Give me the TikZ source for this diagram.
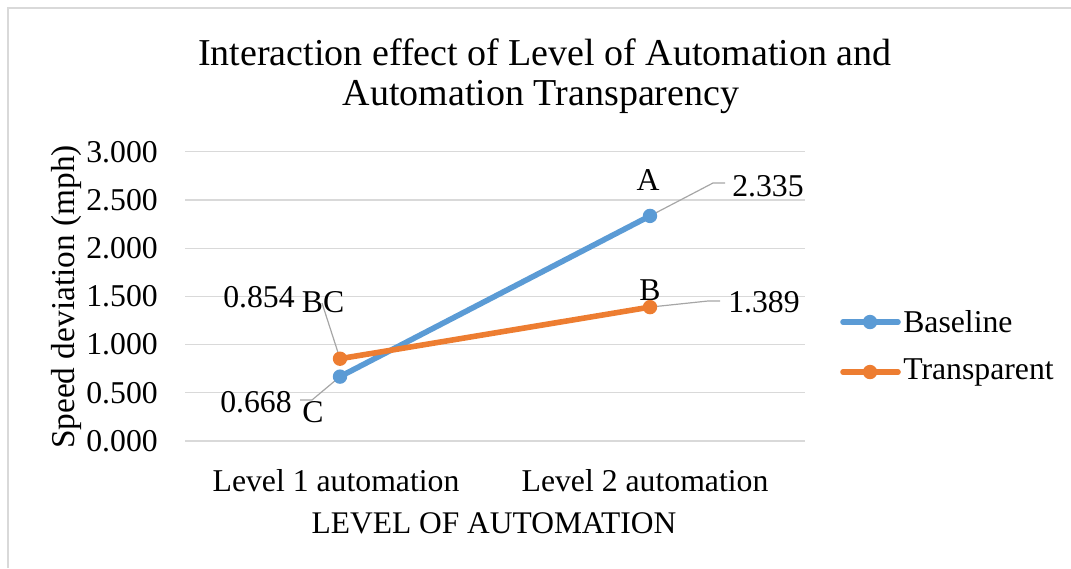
\documentclass[tikz,border=0pt]{standalone}
\usepackage{fontspec}
\setmainfont{Liberation Serif}
\usetikzlibrary{positioning}
\definecolor{baseblue}{HTML}{5B9BD5}
\definecolor{transorange}{HTML}{ED7D31}
\definecolor{gridgray}{HTML}{D9D9D9}
\definecolor{leadergray}{HTML}{A6A6A6}
\definecolor{framegray}{HTML}{D9D9D9}

\begin{document}
\begin{tikzpicture}[x=0.75pt, y=-0.75pt,
    chartfont/.style={font=\fontsize{23.8}{26}\selectfont, text=black, inner sep=0pt},
    ticklabel/.style={chartfont, anchor=east},
    datalabel/.style={chartfont},
    leader/.style={leadergray, line width=0.9pt},
    series/.style={line width=4.2pt, line cap=round},
    gridline/.style={gridgray, line width=1pt}]
  \useasboundingbox (0,0) rectangle (1071,568);
  \draw[framegray, line width=1.5pt] (8,568) -- (8,8) -- (1071,8);
  % Title
  \node[font=\fontsize{28.5}{32}\selectfont, inner sep=0pt] (title1) at (545,52) {Interaction effect of Level of Automation and};
  \node[font=\fontsize{28.5}{32}\selectfont, inner sep=0pt] (title2) at (541,97) {Automation Transparency};
  % Grid and value axis
  \foreach \v/\t in {0/0.000, 1/0.500, 2/1.000, 3/1.500, 4/2.000, 5/2.500, 6/3.000} {
    \draw[gridline] (185,{441-48.2*\v}) -- (805,{441-48.2*\v});
    \node[ticklabel] (tick\v) at (158,{441-48.2*\v}) {\t};
  }
  \node[font=\fontsize{25}{28}\selectfont, inner sep=0pt, rotate=90] (ytitle) at (66,297) {Speed deviation (mph)};
  % Category axis
  \node[chartfont] (cat1) at (336,481) {Level 1 automation};
  \node[chartfont] (cat2) at (645,481) {Level 2 automation};
  \node[font=\fontsize{23.6}{26}\selectfont, inner sep=0pt] (xtitle) at (494,523) {LEVEL OF AUTOMATION};
  % Data points
  \coordinate (base1) at (340,376.6);
  \coordinate (base2) at (650,215.9);
  \coordinate (trans1) at (340,358.7);
  \coordinate (trans2) at (650,307.1);
  % Data labels
  \node[datalabel] (labA) at (648,180) {A};
  \node[datalabel, anchor=west] (valA) at (732,186) {2.335};
  \node[datalabel] (labB) at (650,290) {B};
  \node[datalabel, anchor=west] (valB) at (728,302) {1.389};
  \node[datalabel] (labBC) at (323,302) {BC};
  \node[datalabel] (valBC) at (259,297) {0.854};
  \node[datalabel] (labC) at (313,412) {C};
  \node[datalabel] (valC) at (256,402) {0.668};
  % Leader lines
  \coordinate (kneeA) at (713,183);
  \coordinate (endA) at (725,183);
  \coordinate (kneeB) at (708,301);
  \coordinate (endB) at (720,301);
  \coordinate (startBC) at (322,303);
  \coordinate (kneeC) at (312,400);
  \coordinate (endC) at (300,400);
  \draw[leader] (base2) -- (kneeA) -- (endA);
  \draw[leader] (trans2) -- (kneeB) -- (endB);
  \draw[leader] (startBC) -- (trans1);
  \draw[leader] (base1) -- (kneeC) -- (endC);
  % Series
  \draw[series, baseblue] (base1) -- (base2);
  \fill[baseblue] (base1) circle (5.4pt) (base2) circle (5.4pt);
  \draw[series, transorange] (trans1) -- (trans2);
  \fill[transorange] (trans1) circle (5.4pt) (trans2) circle (5.4pt);
  % Legend
  \coordinate (keyBase) at (870,322);
  \coordinate (keyTrans) at (870,372);
  \draw[series, baseblue] ([xshift=-27*0.75pt]keyBase) -- ([xshift=28*0.75pt]keyBase);
  \fill[baseblue] (keyBase) circle (5.4pt);
  \node[chartfont, anchor=west] (legBase) at (903,322) {Baseline};
  \draw[series, transorange] ([xshift=-27*0.75pt]keyTrans) -- ([xshift=28*0.75pt]keyTrans);
  \fill[transorange] (keyTrans) circle (5.4pt);
  \node[chartfont, anchor=west] (legTrans) at (903,372) {Transparent};
\end{tikzpicture}
\end{document}
